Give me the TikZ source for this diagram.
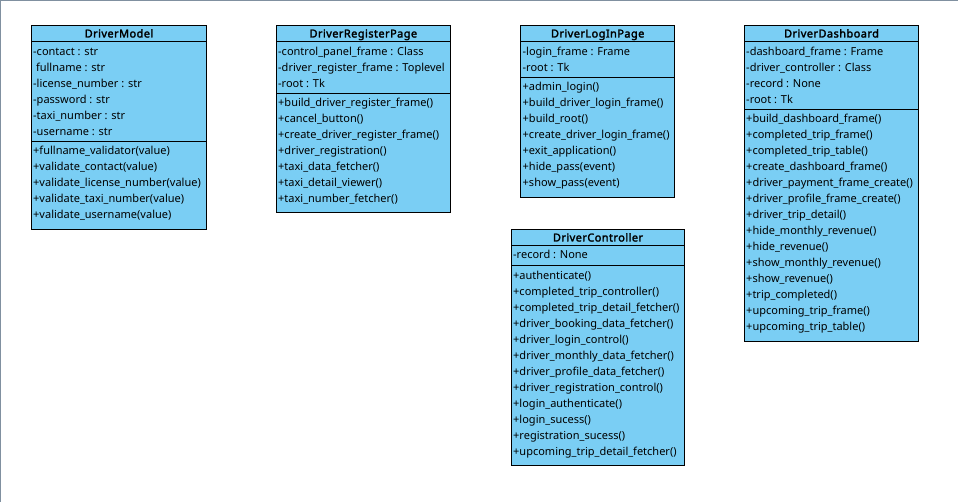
\documentclass[tikz,border=0pt]{standalone}
\usepackage{fontspec}
\setmainfont{Noto Sans}[AutoFakeBold=2.2]
\definecolor{classfill}{RGB}{122,206,244}
\definecolor{framegrey}{RGB}{128,144,160}
\tikzset{
  classbox/.style={draw=black, fill=classfill, line width=1pt, anchor=north west, inner sep=0pt, outer sep=0pt},
  classtitle/.style={font=\fontsize{11}{16}\selectfont\bfseries\addfontfeature{LetterSpace=4}, anchor=base, inner sep=0pt},
  members/.style={font=\fontsize{11}{16}\selectfont, align=left, anchor=north west, inner sep=0pt},
  sepline/.style={draw=black, line width=1pt},
}
\begin{document}
\begin{tikzpicture}[x=1pt,y=-1pt]
\useasboundingbox (0,0) rectangle (958,502);
\fill[white] (0,0) rectangle (958,502);
\draw[framegrey, line width=2pt] (0,502) -- (0,0) -- (958,0);

% DriverModel
\node[classbox, minimum width=175.4pt, minimum height=204pt] (dm) at (31.3,25.3) {};
\node[classtitle] (dmt) at (119,37.5) {DriverModel};
\draw[sepline] (31.3,41.7) -- (206.7,41.7);
\draw[sepline] (31.3,141.3) -- (206.7,141.3);
\node[members] (dma) at (33,43.7) {\strut-contact : str\\\ fullname : str\\-license\_number : str\\-password : str\\-taxi\_number : str\\-username : str};
\node[members] (dmm) at (33,143.3) {\strut+fullname\_validator(value)\\+validate\_contact(value)\\+validate\_license\_number(value)\\+validate\_taxi\_number(value)\\+validate\_username(value)};

% DriverRegisterPage
\node[classbox, minimum width=174.7pt, minimum height=187.4pt] (drp) at (276,25.3) {};
\node[classtitle] (drpt) at (363.35,37.5) {DriverRegisterPage};
\draw[sepline] (276,42) -- (450.7,42);
\draw[sepline] (276,93.3) -- (450.7,93.3);
\node[members] (drpa) at (278,44) {\strut-control\_panel\_frame : Class\\-driver\_register\_frame : Toplevel\\-root : Tk};
\node[members] (drpm) at (278,95.3) {\strut+build\_driver\_register\_frame()\\+cancel\_button()\\+create\_driver\_register\_frame()\\+driver\_registration()\\+taxi\_data\_fetcher()\\+taxi\_detail\_viewer()\\+taxi\_number\_fetcher()};

% DriverLogInPage
\node[classbox, minimum width=154pt, minimum height=172pt] (dlp) at (520.7,25.3) {};
\node[classtitle] (dlpt) at (597.7,37.5) {DriverLogInPage};
\draw[sepline] (520.7,42) -- (674.7,42);
\draw[sepline] (520.7,77.3) -- (674.7,77.3);
\node[members] (dlpa) at (522.5,44) {\strut-login\_frame : Frame\\-root : Tk};
\node[members] (dlpm) at (522.5,79.3) {\strut+admin\_login()\\+build\_driver\_login\_frame()\\+build\_root()\\+create\_driver\_login\_frame()\\+exit\_application()\\+hide\_pass(event)\\+show\_pass(event)};

% DriverDashboard
\node[classbox, minimum width=174.4pt, minimum height=316pt] (dd) at (744.3,25.3) {};
\node[classtitle] (ddt) at (831.5,37.5) {DriverDashboard};
\draw[sepline] (744.3,41.7) -- (918.7,41.7);
\draw[sepline] (744.3,109.3) -- (918.7,109.3);
\node[members] (dda) at (746,43.7) {\strut-dashboard\_frame : Frame\\-driver\_controller : Class\\-record : None\\-root : Tk};
\node[members] (ddm) at (746,111.3) {\strut+build\_dashboard\_frame()\\+completed\_trip\_frame()\\+completed\_trip\_table()\\+create\_dashboard\_frame()\\+driver\_payment\_frame\_create()\\+driver\_profile\_frame\_create()\\+driver\_trip\_detail()\\+hide\_monthly\_revenue()\\+hide\_revenue()\\+show\_monthly\_revenue()\\+show\_revenue()\\+trip\_completed()\\+upcoming\_trip\_frame()\\+upcoming\_trip\_table()};

% DriverController
\node[classbox, minimum width=173.4pt, minimum height=236pt] (dc) at (511.3,229.3) {};
\node[classtitle] (dct) at (598,241.5) {DriverController};
\draw[sepline] (511.3,245.3) -- (684.7,245.3);
\draw[sepline] (511.3,265.7) -- (684.7,265.7);
\node[members] (dca) at (513,247.3) {\strut-record : None};
\node[members] (dcm) at (513,267.7) {\strut+authenticate()\\+completed\_trip\_controller()\\+completed\_trip\_detail\_fetcher()\\+driver\_booking\_data\_fetcher()\\+driver\_login\_control()\\+driver\_monthly\_data\_fetcher()\\+driver\_profile\_data\_fetcher()\\+driver\_registration\_control()\\+login\_authenticate()\\+login\_sucess()\\+registration\_sucess()\\+upcoming\_trip\_detail\_fetcher()};
\end{tikzpicture}
\end{document}
